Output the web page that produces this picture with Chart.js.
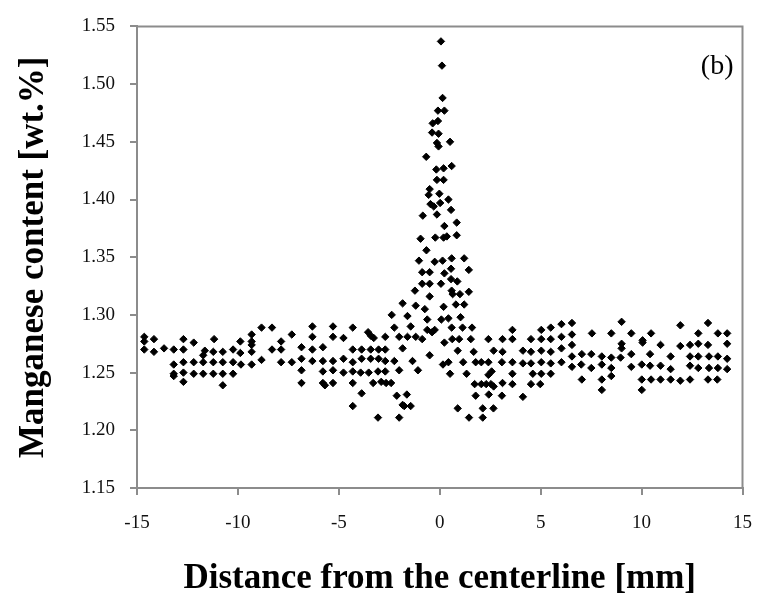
<!DOCTYPE html>
<html>
<head>
<meta charset="utf-8">
<script src="https://cdn.jsdelivr.net/npm/chart.js@4/dist/chart.umd.min.js"></script>
<style>
  html, body { margin: 0; padding: 0; background: #fff; }
  #wrap { width: 769px; height: 597px; }
</style>
</head>
<body>
<div id="wrap"><canvas id="mnChart" width="769" height="597"></canvas></div>
<script>
// distance from centerline [mm] and Mn content [wt.%]
const distance = [
  -14.64, -14.64, -14.64, -14.16, -14.16, -13.66,
  -13.18, -13.18, -13.18, -13.18,
  -12.70, -12.70, -12.70, -12.70, -12.70,
  -12.19, -12.19, -12.19,
  -11.64, -11.72, -11.72, -11.72,
  -11.18, -11.22, -11.22, -11.22,
  -10.75, -10.75, -10.75, -10.75,
  -10.24, -10.24, -10.24,
  -9.88, -9.88, -9.85,
  -9.32, -9.32, -9.32, -9.32, -9.32,
  -8.83, -8.83, -8.31, -8.31,
  -7.86, -7.86, -7.86,
  -7.33, -7.33,
  -6.85, -6.85, -6.85, -6.85,
  -6.31, -6.31, -6.31, -6.31,
  -5.79, -5.79, -5.79, -5.79, -5.69,
  -5.29, -5.29, -5.29, -5.29, -5.29,
  -4.77, -4.77, -4.77,
  -4.31, -4.31, -4.31, -4.31, -4.31, -4.31,
  -3.87, -3.87, -3.92, -3.87,
  -3.55, -3.42, -3.27,
  -3.42, -3.42, -3.52, -3.30,
  -3.06,
  -3.03, -3.03, -3.06, -2.90,
  -2.70, -2.70, -2.70, -2.70, -2.66,
  -2.41,
  -2.38, -2.25, -2.25,
  -2.13,
  -2.01, -2.01, -2.01,
  -1.84, -1.84, -1.76, -1.84,
  -1.60, -1.60, -1.63,
  -1.44, -1.44,
  -1.35,
  -1.19, -1.19,
  -1.08,
  -0.74, -0.62, -0.62,
  -0.38, -0.50,
  // peak
  0.06, 0.11, 0.14,
  -0.09, 0.23,
  -0.35, -0.09,
  -0.38, -0.06,
  -0.14, -0.06,
  0.51,
  -0.67,
  -0.17, 0.19,
  0.59,
  -0.14, 0.19,
  -0.50, -0.55,
  -0.02,
  0.43,
  -0.46, -0.30,
  0.02,
  -0.84,
  -0.14,
  0.56,
  0.84,
  0.23,
  -0.95, -0.22, 0.19, 0.35, 0.84,
  -0.66,
  -1.03, -0.25, 0.14, 0.59, 1.21,
  -0.87, -0.50, 0.23, 0.56, 1.44,
  -0.87, -0.50, 0.06, 0.56, 0.87,
  0.59, 0.64, 1.00, 1.44,
  -1.23, -0.50,
  0.19, 0.80, 1.21,
  0.08, 0.43, 1.03,
  -0.25,
  0.59, 1.13, 1.60,
  -0.87, 0.23, 0.62, 0.96, 1.54, 2.41, 3.11,
  0.89, 1.68, 2.67, 3.11,
  0.16, 0.43, 1.16, 1.78, 2.06, 2.41, 3.08,
  1.33, 0.51, 2.41, 2.57,
  1.73, 2.06, 2.30, 2.54, 2.67, 3.11,
  1.78, 2.43, 3.08,
  0.89, 2.13, 2.66,
  1.45, 2.13,
  3.60, 3.60, 3.60, 3.60, 3.60,
  4.12, 4.12, 4.12,
  4.52, 4.52, 4.52, 4.61, 4.52,
  5.03, 5.03, 5.03, 5.03, 5.03, 4.98,
  5.50, 5.50, 5.50, 5.50, 5.50,
  6.03, 6.03, 6.03, 6.03,
  6.55, 6.55, 6.55, 6.55, 6.55,
  7.04, 7.01, 7.04,
  7.54, 7.51, 7.51,
  8.03, 8.03, 8.03, 8.03,
  8.50, 8.50, 8.50, 8.50,
  9.01, 9.01, 9.01, 8.96,
  9.49, 9.49, 9.49,
  10.05, 10.05, 10.01, 10.01, 10.01,
  10.47, 10.42, 10.42, 10.47,
  10.94, 10.94, 10.94,
  11.44, 11.44, 11.44,
  11.92, 11.92, 11.92,
  12.40, 12.40, 12.40, 12.40,
  12.81, 12.81, 12.81, 12.81,
  13.29, 13.29, 13.34, 13.34, 13.29,
  13.78, 13.78, 13.78, 13.75,
  14.24, 14.24, 14.24, 14.24
];

const manganese = [
  1.281, 1.277, 1.270, 1.279, 1.268, 1.271,
  1.270, 1.257, 1.249, 1.247,
  1.279, 1.270, 1.259, 1.250, 1.242,
  1.276, 1.259, 1.249,
  1.269, 1.265, 1.259, 1.249,
  1.279, 1.268, 1.259, 1.249,
  1.268, 1.259, 1.249, 1.239,
  1.270, 1.259, 1.249,
  1.277, 1.267, 1.257,
  1.283, 1.277, 1.274, 1.268, 1.257,
  1.289, 1.261, 1.289, 1.270,
  1.277, 1.270, 1.259,
  1.283, 1.259,
  1.272, 1.262, 1.252, 1.241,
  1.290, 1.281, 1.270, 1.260,
  1.272, 1.260, 1.251, 1.241, 1.239,
  1.290, 1.281, 1.260, 1.252, 1.241,
  1.280, 1.262, 1.250,
  1.289, 1.270, 1.259, 1.251, 1.241, 1.221,
  1.270, 1.262, 1.250, 1.232,
  1.285, 1.282, 1.280,
  1.270, 1.262, 1.250, 1.241,
  1.211,
  1.270, 1.262, 1.251, 1.242,
  1.281, 1.270, 1.260, 1.251, 1.241,
  1.241,
  1.300, 1.289, 1.260,
  1.230,
  1.281, 1.252, 1.211,
  1.271, 1.222, 1.221, 1.310,
  1.299, 1.281, 1.231,
  1.221, 1.290,
  1.260,
  1.308, 1.281,
  1.252,
  1.305, 1.296, 1.287,
  1.285, 1.265,
  // peak
  1.537, 1.516, 1.488,
  1.477, 1.477,
  1.466, 1.468,
  1.458, 1.457,
  1.449, 1.446,
  1.450,
  1.437,
  1.426, 1.427,
  1.429,
  1.417, 1.417,
  1.409, 1.404,
  1.405,
  1.400,
  1.396, 1.394,
  1.397,
  1.386,
  1.387,
  1.391,
  1.380,
  1.377,
  1.366, 1.367, 1.367, 1.368, 1.369,
  1.356,
  1.347, 1.346, 1.347, 1.349, 1.349,
  1.337, 1.337, 1.336, 1.340, 1.339,
  1.327, 1.327, 1.327, 1.331, 1.329,
  1.321, 1.318, 1.318, 1.320,
  1.321, 1.316,
  1.307, 1.309, 1.309,
  1.296, 1.297, 1.298,
  1.287,
  1.289, 1.289, 1.289,
  1.279, 1.276, 1.279, 1.279, 1.279, 1.279, 1.279,
  1.269, 1.268, 1.269, 1.268,
  1.257, 1.259, 1.259, 1.259, 1.259, 1.259, 1.259,
  1.249, 1.249, 1.248, 1.251,
  1.240, 1.240, 1.240, 1.240, 1.238, 1.241,
  1.230, 1.231, 1.230,
  1.219, 1.219, 1.219,
  1.211, 1.211,
  1.287, 1.279, 1.259, 1.249, 1.240,
  1.269, 1.258, 1.229,
  1.279, 1.268, 1.258, 1.249, 1.240,
  1.287, 1.279, 1.269, 1.259, 1.249, 1.240,
  1.289, 1.279, 1.268, 1.258, 1.249,
  1.292, 1.281, 1.271, 1.259,
  1.293, 1.283, 1.274, 1.264, 1.255,
  1.266, 1.257, 1.244,
  1.284, 1.266, 1.254,
  1.264, 1.257, 1.244, 1.235,
  1.284, 1.263, 1.254, 1.247,
  1.294, 1.275, 1.271, 1.263,
  1.284, 1.266, 1.255,
  1.278, 1.276, 1.257, 1.244, 1.235,
  1.284, 1.266, 1.256, 1.244,
  1.274, 1.256, 1.244,
  1.264, 1.253, 1.244,
  1.291, 1.273, 1.243,
  1.274, 1.264, 1.256, 1.244,
  1.284, 1.275, 1.264, 1.254,
  1.293, 1.274, 1.264, 1.254, 1.244,
  1.284, 1.264, 1.254, 1.244,
  1.284, 1.275, 1.262, 1.253
];

const xTicks = [-15, -10, -5, 0, 5, 10, 15];
const yTicks = [1.15, 1.20, 1.25, 1.30, 1.35, 1.40, 1.45, 1.50, 1.55];
const panelLabel = '(b)';

const axisColor = '#8c8c8c';
const serif = "'Liberation Serif', 'Times New Roman', serif";

const points = distance.map((d, i) => ({ x: d, y: manganese[i] }));

// box around the plot area + panel label
const frameAndLabel = {
  id: 'frameAndLabel',
  afterDraw(chart) {
    const { ctx, chartArea: a } = chart;
    ctx.save();
    ctx.strokeStyle = axisColor;
    ctx.lineWidth = 2;
    ctx.beginPath();
    ctx.moveTo(a.left, a.top);
    ctx.lineTo(a.right, a.top);
    ctx.lineTo(a.right, a.bottom);
    ctx.stroke();
    ctx.fillStyle = '#000';
    ctx.font = '28px ' + serif;
    ctx.textAlign = 'right';
    ctx.textBaseline = 'middle';
    ctx.fillText(panelLabel, a.right - 9, a.top + 40);
    ctx.restore();
  }
};

const ctx = document.getElementById('mnChart');
new Chart(ctx, {
  type: 'scatter',
  data: {
    datasets: [{
      label: 'Mn',
      data: points,
      pointStyle: 'rectRot',
      pointRadius: 3.7,
      pointBorderWidth: 1,
      backgroundColor: '#000',
      borderColor: '#000'
    }]
  },
  options: {
    responsive: false,
    animation: false,
    layout: { padding: { left: 0, right: 17, top: 21, bottom: 0 } },
    plugins: {
      legend: { display: false },
      tooltip: { enabled: false }
    },
    scales: {
      x: {
        type: 'linear',
        min: -15,
        max: 15,
        afterBuildTicks(scale) { scale.ticks = xTicks.map(v => ({ value: v })); },
        afterFit(scale) { scale.height = 109; },
        ticks: {
          color: '#111',
          font: { family: serif, size: 19 },
          padding: 17,
          maxRotation: 0
        },
        grid: { drawOnChartArea: false, drawTicks: true, tickLength: 7, color: axisColor, lineWidth: 2 },
        border: { color: axisColor, width: 2 },
        title: {
          display: true,
          text: 'Distance from the centerline [mm]',
          color: '#000',
          font: { family: serif, size: 35, weight: 'bold', lineHeight: 1 },
          padding: 1
        }
      },
      y: {
        type: 'linear',
        min: 1.15,
        max: 1.55,
        afterBuildTicks(scale) { scale.ticks = yTicks.map(v => ({ value: v })); },
        afterFit(scale) { scale.width = 137; },
        ticks: {
          color: '#111',
          font: { family: serif, size: 19 },
          padding: 15,
          callback: v => Number(v).toFixed(2)
        },
        grid: { drawOnChartArea: false, drawTicks: true, tickLength: 7, color: axisColor, lineWidth: 2 },
        border: { color: axisColor, width: 2 },
        title: {
          display: true,
          text: 'Manganese content [wt.%]',
          color: '#000',
          font: { family: serif, size: 35, weight: 'bold', lineHeight: 1 },
          padding: 16
        }
      }
    }
  },
  plugins: [frameAndLabel]
});
</script>
</body>
</html>
